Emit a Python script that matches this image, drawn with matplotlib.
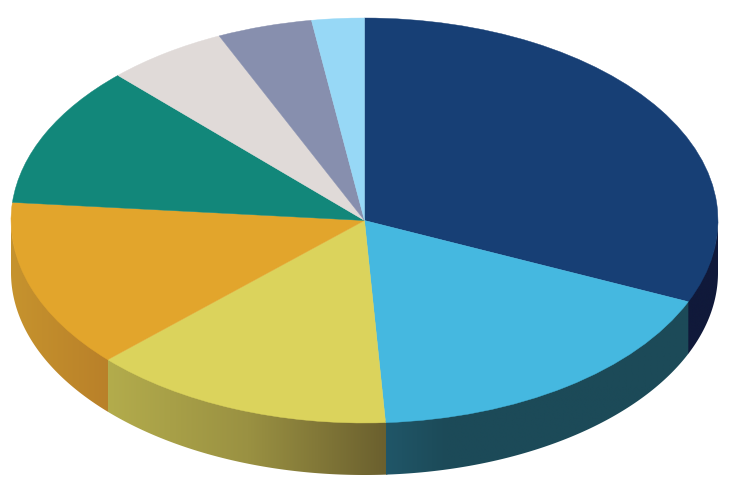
import numpy as np
import matplotlib
matplotlib.use('Agg')
import matplotlib.pyplot as plt
from matplotlib.colors import LinearSegmentedColormap
from matplotlib.patches import Polygon

# Доли секторов (по часовой стрелке от верхней точки)
shares = [31.6, 17.5, 13.9, 13.5, 11.3, 5.55, 4.35, 2.4]
top_colors = ['#173F75', '#45B8E0', '#DBD35C', '#E2A52C', '#12877A', '#E0DAD8', '#878FAE', '#97D8F6']

# Цвета боковой стенки слева направо (видны только первые четыре сектора)
wall_colors = [
    ['#10193A', '#10193A'],
    ['#205668', '#1C4A58', '#1C4A58', '#1C4A58', '#1C4A58', '#1C4A58'],
    ['#B3AC4C', '#9A9142', '#6A5F2E'],
    ['#C6932E', '#B98029'],
]

# Геометрия эллипса в пикселях
W, H = 729, 494
cx, cy = 364.5, 220.5
rx, ry = 353.5, 202.5
depth = 52 / ry

fig = plt.figure(figsize=(W / 100, H / 100), dpi=100)
ax = fig.add_axes([0, 0, 1, 1])

wedges, _ = ax.pie(shares, colors=top_colors, startangle=90, counterclock=False,
                   wedgeprops={'linewidth': 0.3})

for i, w in enumerate(wedges):
    w.set_edgecolor(top_colors[i])
    w.set_zorder(3)

    # Видимая часть стенки: только нижняя половина эллипса
    a1 = w.theta1 % 360
    a2 = a1 + (w.theta2 - w.theta1)
    s, e = max(a1, 180), min(a2, 360)
    if e <= s:
        continue
    # Небольшой нахлёст, чтобы между стенками не было светлого шва
    t = np.radians(np.linspace(s, e + 0.3, 120))
    xs, ys = np.cos(t), np.sin(t)
    pts = np.r_[np.c_[xs, ys + 0.01], np.c_[xs, ys - depth][::-1]]
    cmap = LinearSegmentedColormap.from_list('wall', wall_colors[i])
    grad = np.linspace(0, 1, 256).reshape(1, -1)
    im = ax.imshow(grad, cmap=cmap, aspect='auto', zorder=2 + i * 0.01 * (-1),
                   extent=[xs.min(), xs.max(), ys.min() - depth, ys.max() + 0.01])
    im.set_clip_path(Polygon(pts, closed=True, transform=ax.transData))

# Сжатие круга в эллипс через пределы осей
ax.set_aspect('auto')
ax.set_xlim(-cx / rx, (W - cx) / rx)
ax.set_ylim(-(H - cy) / ry, cy / ry)
ax.axis('off')

fig.savefig('out.png', dpi=100, facecolor='white')
